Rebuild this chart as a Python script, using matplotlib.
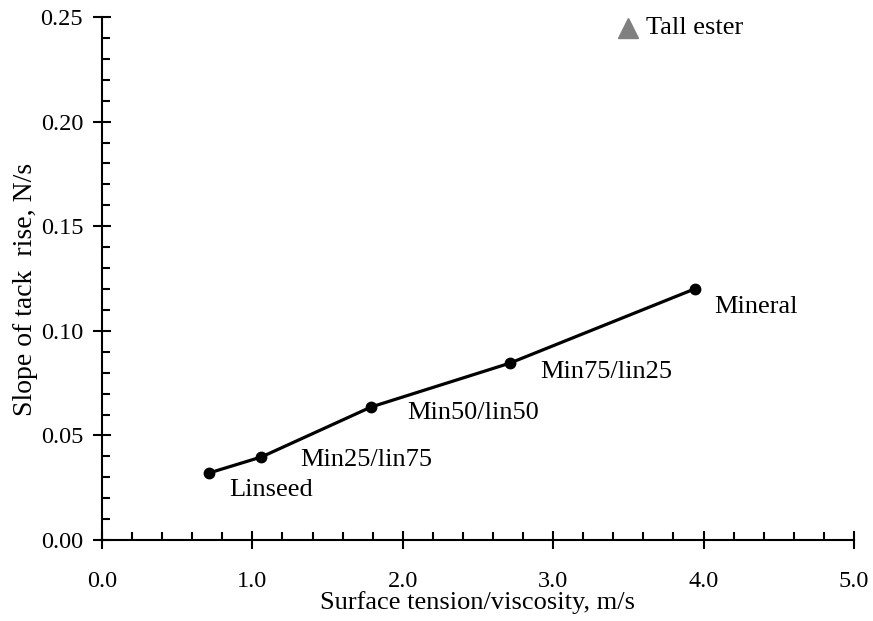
import matplotlib.pyplot as plt
from matplotlib.ticker import MultipleLocator, FormatStrFormatter

plt.rcParams['font.family'] = ['Liberation Serif', 'DejaVu Serif']

# oils and blends: surface tension/viscosity vs slope of tack rise
oils = ['Linseed', 'Min25/lin75', 'Min50/lin50', 'Min75/lin25', 'Mineral']
ratio = [0.71, 1.06, 1.79, 2.71, 3.94]
slope = [0.032, 0.0397, 0.0636, 0.0845, 0.120]

tall_name = 'Tall ester'
tall_ratio = 3.5
tall_slope = 0.2447

# label offsets in points (dx, dy) from each point
label_offsets = [(15, -12), (28, -2), (26, -4), (22, -6), (14, -13)]

fig = plt.figure(figsize=(8.73, 6.21), dpi=100)
ax = fig.add_axes([0.1168, 0.1304, 0.8614, 0.8422])

ax.plot(ratio, slope, color='black', lw=2.3, marker='o', ms=7.5, zorder=3)
for name, x, y, off in zip(oils, ratio, slope, label_offsets):
    ax.annotate(name, (x, y), xytext=off, textcoords='offset points',
                ha='left', va='center', fontsize=19)

ax.plot(tall_ratio, tall_slope, marker='^', ms=14, color='#808080',
        linestyle='none', clip_on=False)
ax.annotate(tall_name, (tall_ratio, tall_slope), xytext=(13, 0),
            textcoords='offset points', ha='left', va='center', fontsize=19)

ax.set_xlim(0, 5)
ax.set_ylim(0, 0.25)
ax.xaxis.set_major_locator(MultipleLocator(1.0))
ax.xaxis.set_minor_locator(MultipleLocator(0.2))
ax.yaxis.set_major_locator(MultipleLocator(0.05))
ax.yaxis.set_minor_locator(MultipleLocator(0.01))
ax.xaxis.set_major_formatter(FormatStrFormatter('%.1f'))
ax.yaxis.set_major_formatter(FormatStrFormatter('%.2f'))

for side in ['top', 'right']:
    ax.spines[side].set_visible(False)
for side in ['left', 'bottom']:
    ax.spines[side].set_linewidth(1.5)

ax.tick_params(axis='both', which='major', direction='inout', length=13,
               width=1.5, labelsize=17.5)
ax.tick_params(axis='x', which='major', pad=16)
ax.tick_params(axis='y', which='major', pad=7)
ax.tick_params(axis='both', which='minor', direction='in', length=6, width=1.5)

ax.set_xlabel('Surface tension/viscosity, m/s', fontsize=19, labelpad=-1)
ax.set_ylabel('Slope of tack  rise, N/s', fontsize=20, labelpad=2, y=0.48)

fig.savefig('out.png', dpi=100)
